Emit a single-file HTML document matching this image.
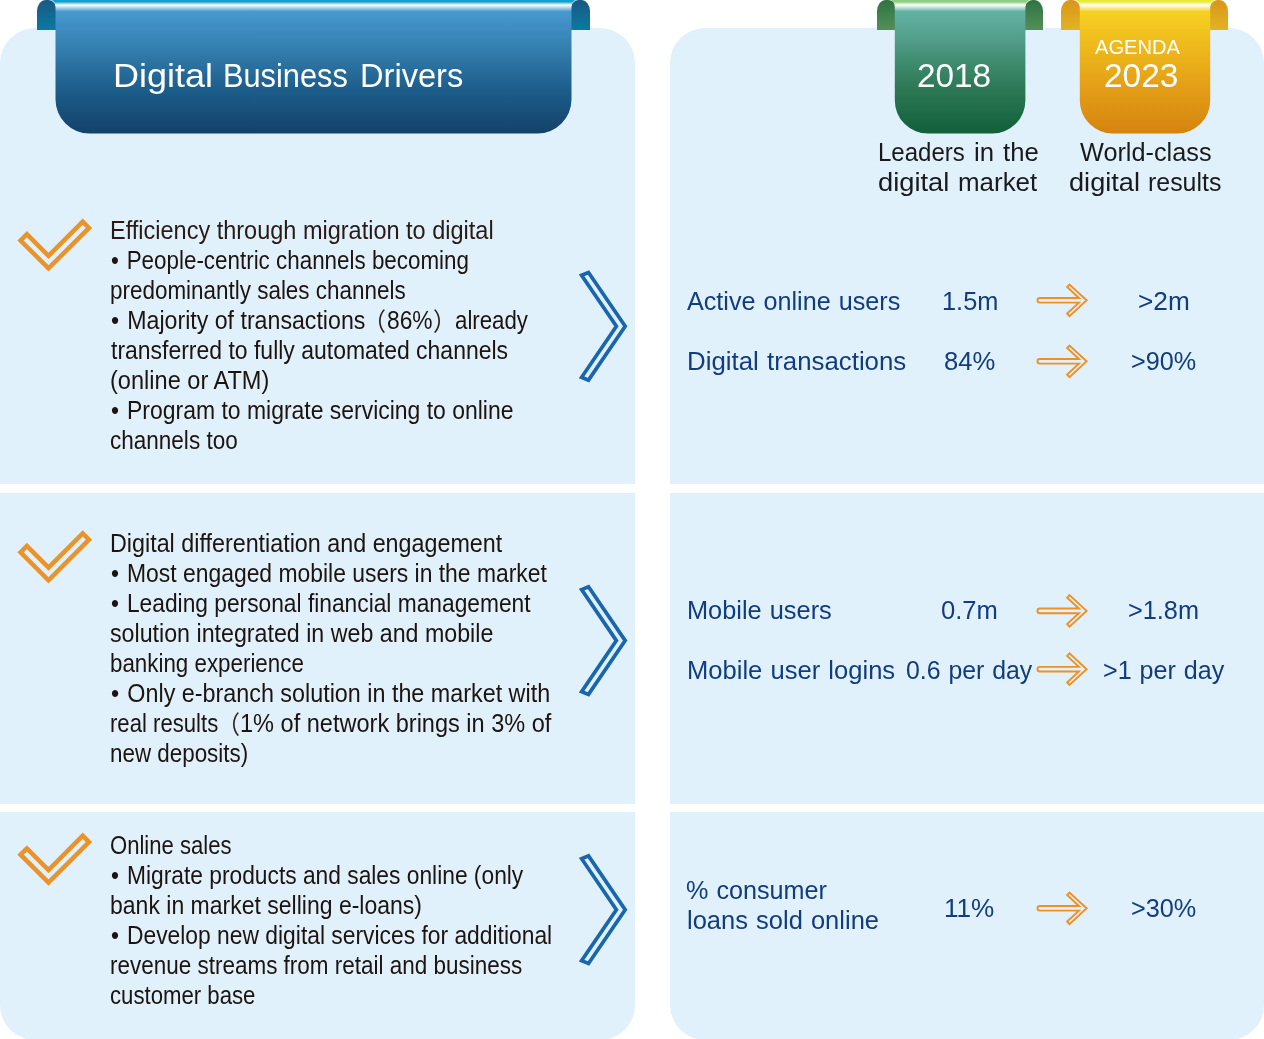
<!DOCTYPE html>
<html lang="en">
<head>
<meta charset="utf-8">
<title>Digital Business Drivers</title>
<style>
html,body{margin:0;padding:0;background:#fff;}
body{font-family:"Liberation Sans","Noto Sans CJK SC",sans-serif;}
#stage{position:relative;width:1264px;height:1039px;overflow:hidden;background:#fff;}
.t{position:absolute;white-space:nowrap;line-height:30px;transform-origin:0 0;}
.panel{position:absolute;background:#e1f1fc;}
.abs{position:absolute;}
svg{position:absolute;left:0;top:0;overflow:visible;}
.b{margin-right:1.8px;}
.w{word-spacing:1px;}

</style>
</head>
<body>
<div id="stage">
<!-- background panels -->
<div class="panel" style="left:0;top:28px;width:635.4px;height:456.4px;border-radius:35px 35px 0 0;"></div>
<div class="panel" style="left:0;top:492.7px;width:635.4px;height:311.1px;"></div>
<div class="panel" style="left:0;top:812.1px;width:635.4px;height:227.5px;border-radius:0 0 35px 35px;"></div>
<div class="panel" style="left:669.9px;top:28px;width:594.5px;height:456.4px;border-radius:35px 35px 0 0;"></div>
<div class="panel" style="left:669.9px;top:492.7px;width:594.5px;height:311.1px;"></div>
<div class="panel" style="left:669.9px;top:812.1px;width:594.5px;height:227.5px;border-radius:0 0 35px 35px;"></div>

<!-- ribbon folds -->
<div class="abs" style="left:37px;top:0;width:20px;height:30px;border-radius:9px 9px 0 0 / 11px 11px 0 0;background:linear-gradient(#1a5882,#0a7aa2);"></div>
<div class="abs" style="left:570px;top:0;width:20px;height:30px;border-radius:9px 9px 0 0 / 11px 11px 0 0;background:linear-gradient(#1a5882,#0a7aa2);"></div>
<div class="abs" style="left:877px;top:0;width:19.5px;height:30px;border-radius:9px 9px 0 0 / 11px 11px 0 0;background:linear-gradient(#2f7340,#52905a);"></div>
<div class="abs" style="left:1024px;top:0;width:19px;height:30px;border-radius:9px 9px 0 0 / 11px 11px 0 0;background:linear-gradient(#2f7340,#52905a);"></div>
<div class="abs" style="left:1061px;top:0;width:20px;height:30px;border-radius:9px 9px 0 0 / 11px 11px 0 0;background:linear-gradient(#d9961c,#e2b322);"></div>
<div class="abs" style="left:1209px;top:0;width:19px;height:30px;border-radius:9px 9px 0 0 / 11px 11px 0 0;background:linear-gradient(#d9961c,#e2b322);"></div>

<svg width="1264" height="1039" viewBox="0 0 1264 1039">
  <defs>
    <linearGradient id="gb" gradientUnits="userSpaceOnUse" x1="0" y1="0" x2="0" y2="133.5">
      <stop offset="0.0000" stop-color="#11a1cc"/>
      <stop offset="0.0135" stop-color="#12a2cd"/>
      <stop offset="0.0375" stop-color="#ffffff"/>
      <stop offset="0.0861" stop-color="#4799cf"/>
      <stop offset="0.2996" stop-color="#3985b7"/>
      <stop offset="0.6742" stop-color="#1c5d8a"/>
      <stop offset="1.0000" stop-color="#13426a"/>
    </linearGradient>
    <linearGradient id="gg" gradientUnits="userSpaceOnUse" x1="0" y1="0" x2="0" y2="133.5">
      <stop offset="0.0000" stop-color="#8fce82"/>
      <stop offset="0.0135" stop-color="#8fce82"/>
      <stop offset="0.0375" stop-color="#ffffff"/>
      <stop offset="0.0861" stop-color="#63b1a3"/>
      <stop offset="0.2247" stop-color="#58a593"/>
      <stop offset="0.6367" stop-color="#2f7a58"/>
      <stop offset="1.0000" stop-color="#11603a"/>
    </linearGradient>
    <linearGradient id="gy" gradientUnits="userSpaceOnUse" x1="0" y1="0" x2="0" y2="133.5">
      <stop offset="0.0000" stop-color="#e9ea35"/>
      <stop offset="0.0135" stop-color="#e9ea35"/>
      <stop offset="0.0375" stop-color="#ffffff"/>
      <stop offset="0.0861" stop-color="#f6d123"/>
      <stop offset="0.2247" stop-color="#f2c41f"/>
      <stop offset="0.6367" stop-color="#e4a017"/>
      <stop offset="1.0000" stop-color="#d5840f"/>
    </linearGradient>
    <g id="chk"><path d="M20.58 240.5 L26.9 234.18 L48.5 255.83 L82.7 221.58 L89.02 227.9 L48.5 268.42 Z" fill="none" stroke="#e99328" stroke-width="4.5" stroke-linejoin="miter"/></g>
    <g id="chev"><path d="M581.6 275.3 L588.5 272.5 L625.2 326.3 L588.5 380.1 L581.6 377.3 L616.4 326.3 Z" fill="none" stroke="#1a66ad" stroke-width="3.7" stroke-linejoin="miter"/></g>
    <g id="arr"><path d="M1078.9 297.85 L1067.1 286.94 L1069.5 284.4 L1086.6 300.2 L1069.5 316 L1067.1 313.46 L1078.9 302.55 H1039.8 A2.35 2.35 0 0 1 1039.8 297.85 Z" fill="none" stroke="#ee9122" stroke-width="1.9" stroke-linejoin="miter"/></g>
  </defs>
  <path d="M50.0 0 Q55.5 0 55.5 7.5 V99.5 A34 34 0 0 0 89.5 133.5 H537.5 A34 34 0 0 0 571.5 99.5 V7.5 Q571.5 0 577.0 0 Z" fill="url(#gb)"/>
  <path d="M889.3 0 Q894.8 0 894.8 7.5 V100.5 A33 33 0 0 0 927.8 133.5 H992.4000000000001 A33 33 0 0 0 1025.4 100.5 V7.5 Q1025.4 0 1030.9 0 Z" fill="url(#gg)"/>
  <path d="M1074.3 0 Q1079.8 0 1079.8 7.5 V100.5 A33 33 0 0 0 1112.8 133.5 H1177.2 A33 33 0 0 0 1210.2 100.5 V7.5 Q1210.2 0 1215.7 0 Z" fill="url(#gy)"/>
  <use href="#chk"/>
  <use href="#chk" transform="translate(0 311.8)"/>
  <use href="#chk" transform="translate(0 614.2)"/>
  <use href="#chev"/>
  <use href="#chev" transform="translate(0 314.3)"/>
  <use href="#chev" transform="translate(0 583.4)"/>
  <use href="#arr" transform="translate(0 0.1)"/>
  <use href="#arr" transform="translate(0 61.1)"/>
  <use href="#arr" transform="translate(0 310.7)"/>
  <use href="#arr" transform="translate(0 369)"/>
  <use href="#arr" transform="translate(0 608.1)"/>
</svg>

<div class="t" style="left:110.12px;top:215.00px;font-size:25px;color:#2a1a15;transform:scaleX(0.9400)">Efficiency through migration to digital</div>
<div class="t" style="left:110.60px;top:245.00px;font-size:25px;color:#1d1410;transform:scaleX(0.8957)"><span class="b">•</span> People-centric channels becoming</div>
<div class="t" style="left:110.10px;top:275.00px;font-size:25px;color:#1d1410;transform:scaleX(0.8976)">predominantly sales channels</div>
<div class="ln"><span class="t" style="left:110.57px;top:305.00px;font-size:25px;color:#1d1410;transform:scaleX(0.9264)"><span class="b">•</span> Majority of transactions</span><span class="t" style="left:362.86px;top:307.00px;font-size:25px;color:#2e2420;transform:scaleX(0.9200)">（</span><span class="t" style="left:386.89px;top:305.00px;font-size:25px;color:#1d1410;transform:scaleX(0.9104)">86%</span><span class="t" style="left:433.08px;top:307.00px;font-size:25px;color:#2e2420;transform:scaleX(0.9200)">）</span><span class="t" style="left:454.51px;top:305.00px;font-size:25px;color:#1d1410;transform:scaleX(0.8901)">already</span></div>
<div class="t" style="left:111.00px;top:335.00px;font-size:25px;color:#1d1410;transform:scaleX(0.9187)">transferred to fully automated channels</div>
<div class="t" style="left:110.06px;top:365.00px;font-size:25px;color:#1d1410;transform:scaleX(0.9425)">(online or ATM)</div>
<div class="t" style="left:110.58px;top:395.00px;font-size:25px;color:#1d1410;transform:scaleX(0.9178)"><span class="b">•</span> Program to migrate servicing to online</div>
<div class="t" style="left:110.10px;top:425.00px;font-size:25px;color:#1d1410;transform:scaleX(0.9007)">channels too</div>
<div class="t" style="left:110.24px;top:528.00px;font-size:25px;color:#1d1410;transform:scaleX(0.9325)">Digital differentiation and engagement</div>
<div class="t" style="left:110.58px;top:558.00px;font-size:25px;color:#1d1410;transform:scaleX(0.9156)"><span class="b">•</span> Most engaged mobile users in the market</div>
<div class="t" style="left:110.59px;top:588.00px;font-size:25px;color:#1d1410;transform:scaleX(0.9104)"><span class="b">•</span> Leading personal financial management</div>
<div class="t" style="left:110.07px;top:618.00px;font-size:25px;color:#1d1410;transform:scaleX(0.9287)">solution integrated in web and mobile</div>
<div class="t" style="left:110.11px;top:648.00px;font-size:25px;color:#1d1410;transform:scaleX(0.8940)">banking experience</div>
<div class="t" style="left:110.57px;top:678.00px;font-size:25px;color:#1d1410;transform:scaleX(0.9333)"><span class="b">•</span> Only e-branch solution in the market with</div>
<div class="ln"><span class="t" style="left:110.11px;top:708.00px;font-size:25px;color:#1d1410;transform:scaleX(0.8851)">real results</span><span class="t" style="left:216.66px;top:710.00px;font-size:25px;color:#2e2420;transform:scaleX(0.9200)">（</span><span class="t" style="left:239.52px;top:708.00px;font-size:25px;color:#1d1410;transform:scaleX(0.9416)">1% of network brings in 3% of</span></div>
<div class="t" style="left:110.10px;top:738.00px;font-size:25px;color:#1d1410;transform:scaleX(0.8954)">new deposits)</div>
<div class="t" style="left:110.02px;top:830.00px;font-size:25px;color:#1d1410;transform:scaleX(0.8831)">Online sales</div>
<div class="t" style="left:110.59px;top:860.00px;font-size:25px;color:#1d1410;transform:scaleX(0.9111)"><span class="b">•</span> Migrate products and sales online (only</div>
<div class="t" style="left:110.08px;top:890.00px;font-size:25px;color:#1d1410;transform:scaleX(0.9202)">bank in market selling e-loans)</div>
<div class="t" style="left:110.59px;top:920.00px;font-size:25px;color:#1d1410;transform:scaleX(0.9133)"><span class="b">•</span> Develop new digital services for additional</div>
<div class="t" style="left:110.10px;top:950.00px;font-size:25px;color:#1d1410;transform:scaleX(0.8989)">revenue streams from retail and business</div>
<div class="t" style="left:110.11px;top:980.00px;font-size:25px;color:#1d1410;transform:scaleX(0.8870)">customer base</div>
<div class="t w" style="left:686.60px;top:286.00px;font-size:25px;color:#113d7e;transform:scaleX(1.0066)">Active online users</div>
<div class="t w" style="left:686.83px;top:346.00px;font-size:25px;color:#113d7e;transform:scaleX(1.0333)">Digital transactions</div>
<div class="t w" style="left:941.67px;top:286.00px;font-size:25px;color:#113d7e;transform:scaleX(1.0135)">1.5m</div>
<div class="t w" style="left:944.08px;top:346.00px;font-size:25px;color:#113d7e;transform:scaleX(1.0250)">84%</div>
<div class="t w" style="left:1137.75px;top:286.00px;font-size:25px;color:#113d7e;transform:scaleX(1.0489)">&gt;2m</div>
<div class="t w" style="left:1130.79px;top:346.00px;font-size:25px;color:#113d7e;transform:scaleX(1.0079)">&gt;90%</div>
<div class="t w" style="left:686.67px;top:595.00px;font-size:25px;color:#113d7e;transform:scaleX(1.0143)">Mobile users</div>
<div class="t w" style="left:686.65px;top:655.00px;font-size:25px;color:#113d7e;transform:scaleX(1.0229)">Mobile user logins</div>
<div class="t w" style="left:941.18px;top:595.00px;font-size:25px;color:#113d7e;transform:scaleX(1.0245)">0.7m</div>
<div class="t w" style="left:906.21px;top:655.00px;font-size:25px;color:#113d7e;transform:scaleX(0.9937)">0.6 per day</div>
<div class="t w" style="left:1128.19px;top:595.00px;font-size:25px;color:#113d7e;transform:scaleX(1.0118)">&gt;1.8m</div>
<div class="t w" style="left:1102.60px;top:655.00px;font-size:25px;color:#113d7e;transform:scaleX(1.0042)">&gt;1 per day</div>
<div class="t w" style="left:686.09px;top:875.00px;font-size:25px;color:#113d7e;transform:scaleX(1.0072)">% consumer</div>
<div class="t w" style="left:686.98px;top:905.00px;font-size:25px;color:#113d7e;transform:scaleX(1.0199)">loans sold online</div>
<div class="t w" style="left:944.41px;top:893.00px;font-size:25px;color:#113d7e;transform:scaleX(1.0435)">11%</div>
<div class="t w" style="left:1130.79px;top:893.00px;font-size:25px;color:#113d7e;transform:scaleX(1.0095)">&gt;30%</div>
<div class="ln"><span class="t w" style="left:877.78px;top:137.00px;font-size:25px;color:#1a1a1a;transform:scaleX(0.9614)">Leaders </span><span class="t w" style="left:973.67px;top:137.00px;font-size:25px;color:#1a1a1a;transform:scaleX(1.0294)">in </span><span class="t w" style="left:1002.90px;top:137.00px;font-size:25px;color:#1a1a1a;transform:scaleX(1.0265)">the</span></div>
<div class="ln"><span class="t w" style="left:878.21px;top:167.00px;font-size:25px;color:#1a1a1a;transform:scaleX(1.0921)">digital </span><span class="t w" style="left:957.96px;top:167.00px;font-size:25px;color:#1a1a1a;transform:scaleX(1.0368)">market</span></div>
<div class="t w" style="left:1079.90px;top:137.00px;font-size:25px;color:#1a1a1a;transform:scaleX(1.0109)">World-class</div>
<div class="ln"><span class="t w" style="left:1068.61px;top:167.00px;font-size:25px;color:#1a1a1a;transform:scaleX(1.0857)">digital </span><span class="t w" style="left:1148.00px;top:167.00px;font-size:25px;color:#1a1a1a;transform:scaleX(0.9958)">results</span></div>
<div class="ln"><span class="t" style="left:113.05px;top:61.00px;font-size:33.5px;color:#ffffff;transform:scaleX(1.0742)">Digital </span><span class="t" style="left:222.86px;top:61.00px;font-size:33.5px;color:#ffffff;transform:scaleX(0.9180)">Business </span><span class="t" style="left:359.85px;top:61.00px;font-size:33.5px;color:#ffffff;transform:scaleX(0.9728)">Drivers</span></div>
<div class="t" style="left:916.69px;top:61.00px;font-size:33px;color:#ffffff;transform:scaleX(1.0099)">2018</div>
<div class="t" style="left:1104.19px;top:61.00px;font-size:33px;color:#ffffff;transform:scaleX(1.0127)">2023</div>
<div class="t" style="left:1094.60px;top:32.00px;font-size:20px;color:#ffffff;transform:scaleX(1.0048)">AGENDA</div>
</div>
</body>
</html>
